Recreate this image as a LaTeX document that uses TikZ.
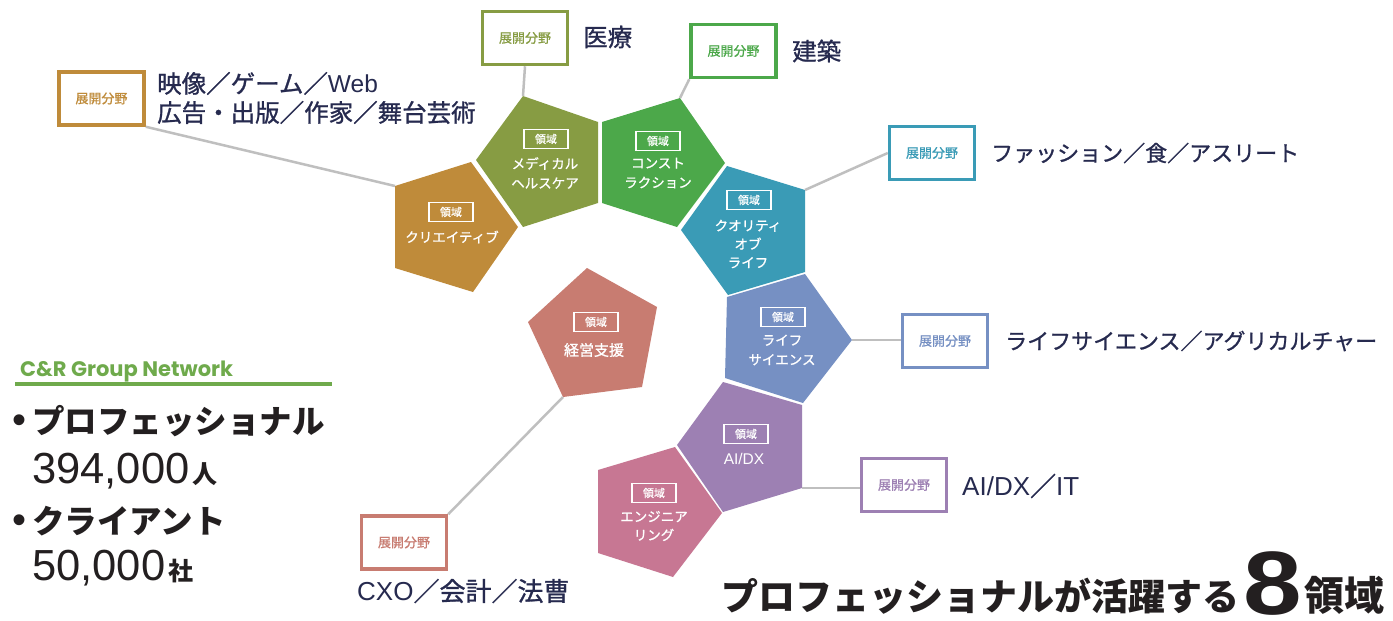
\documentclass[tikz,border=0pt]{standalone}
\usepackage{fontspec}
\usepackage{graphicx}
\setmainfont{Liberation Sans}
\newfontfamily\jp{Noto Sans CJK JP}
\newfontfamily\jpm{Noto Sans CJK JP}[FakeBold=1]
\newfontfamily\pop{Poppins}
\definecolor{navy}{HTML}{262A4F}
\definecolor{linkgray}{HTML}{BFBFBF}
\definecolor{cre}{HTML}{BF8B3A}
\definecolor{med}{HTML}{879C43}
\definecolor{con}{HTML}{4CA84A}
\definecolor{qol}{HTML}{3A9BB6}
\definecolor{lif}{HTML}{7690C3}
\definecolor{aid}{HTML}{9D80B3}
\definecolor{eng}{HTML}{C77793}
\definecolor{mgt}{HTML}{C87C71}
\definecolor{cgreen}{HTML}{6FAA4C}
\definecolor{ink}{HTML}{231F20}
\tikzset{
  fieldbox/.style={draw=#1, line width=3.5pt, fill=white, minimum width=85pt, minimum height=53pt, text=#1, inner sep=0pt, font=\jpm\fontsize{13}{13}\selectfont},
  areatag/.style={draw=white, line width=1.2pt, minimum width=44pt, minimum height=19pt, inner sep=0pt, text=white, font=\jpm\fontsize{11}{11}\selectfont},
  arealabel/.style={text=white, align=center, inner sep=0pt, font=\jpm\fontsize{13.5}{19.5}\selectfont},
  fieldtext/.style={text=navy, anchor=west, align=left, inner sep=0pt, font=\jpm\fontsize{24.5}{29}\selectfont},
  link/.style={draw=linkgray, line width=2.5pt},
}
\begin{document}
\begin{tikzpicture}[x=1pt,y=-1pt]
\useasboundingbox (0,0) rectangle (1393,621);
\fill[white] (0,0) rectangle (1393,621);

% ---------- pentagons ----------
\fill[cre] (395,186) -- (471,162) -- (518,227) -- (473,292) -- (395,268) -- cycle;
\fill[med] (476,160) -- (523,96) -- (598,122) -- (598,203) -- (523,227) -- cycle;
\fill[con] (602,122) -- (680,98) -- (725,163) -- (677,227) -- (602,203) -- cycle;
\fill[qol] (681,230) -- (727,166) -- (805,190) -- (805,272) -- (728,295) -- cycle;
\fill[lif] (727,297) -- (805,274) -- (852,340) -- (803,403) -- (725,378) -- cycle;
\fill[aid] (723,382) -- (802,405) -- (802,488) -- (723,512) -- (677,445) -- cycle;
\fill[eng] (598,470) -- (675,447) -- (722,513) -- (673,577) -- (598,553) -- cycle;
\fill[mgt] (587,268) -- (657,307) -- (642,387) -- (563,397) -- (528,322) -- cycle;

\coordinate (creV) at (395,186);
\coordinate (medV) at (523,96);
\coordinate (conV) at (680,98);
\coordinate (qolV) at (805,190);
\coordinate (lifV) at (852,340);
\coordinate (aidV) at (802,488);
\coordinate (mgtV) at (563,397);

% ---------- area labels ----------
\node[areatag] (creT) at (451,212) {領域};
\node[arealabel] (creL) at (452,237) {クリエイティブ};
\node[areatag] (medT) at (546,139) {領域};
\node[arealabel] (medL) at (545,173) {メディカル\\ヘルスケア};
\node[areatag] (conT) at (658,141) {領域};
\node[arealabel] (conL) at (658,173) {コンスト\\ラクション};
\node[areatag] (qolT) at (749,200) {領域};
\node[arealabel, font=\jpm\fontsize{13.5}{18.5}\selectfont] (qolL) at (748,244) {クオリティ\\オブ\\ライフ};
\node[areatag] (lifT) at (783,317) {領域};
\node[arealabel] (lifL) at (782,350) {ライフ\\サイエンス};
\node[areatag] (aidT) at (746,434) {領域};
\node[arealabel, font=\fontsize{15.5}{15.5}\selectfont] (aidL) at (744,459) {AI/DX};
\node[areatag] (engT) at (654,493) {領域};
\node[arealabel, font=\jpm\fontsize{13.5}{18.5}\selectfont] (engL) at (654,526) {エンジニア\\リング};
\node[areatag] (mgtT) at (596,322) {領域};
\node[arealabel, font=\jpm\fontsize{15}{15}\selectfont] (mgtL) at (594,350) {経営支援};

% ---------- field boxes ----------
\node[fieldbox=cre] (creB) at (101.5,98.5) {展開分野};
\node[fieldbox=med] (medB) at (525,38) {展開分野};
\node[fieldbox=con] (conB) at (733.5,51) {展開分野};
\node[fieldbox=qol] (qolB) at (932,153) {展開分野};
\node[fieldbox=lif] (lifB) at (945,341) {展開分野};
\node[fieldbox=aid] (aidB) at (904,485) {展開分野};
\node[fieldbox=mgt] (mgtB) at (404,542.5) {展開分野};

% ---------- connectors ----------
\draw[link] (creB.south east) -- (creV);
\draw[link] (medB.south) -- (medV);
\draw[link] (conB.south west) -- (conV);
\draw[link] (qolV) -- (qolB.west);
\draw[link] (lifV) -- (lifB.west |- lifV);
\draw[link] (aidV) -- (aidB.west |- aidV);
\draw[link] (mgtV) -- (mgtB.north east);

% ---------- field texts ----------
\node[fieldtext] (creF) at (157,98) {映像／ゲーム／{\rmfamily Web}\\広告・出版／作家／舞台芸術};
\node[fieldtext] (medF) at (583,37) {医療};
\node[fieldtext] (conF) at (792,51) {建築};
\node[fieldtext, font=\jpm\fontsize{22}{22}\selectfont] (qolF) at (991,153) {ファッション／食／アスリート};
\node[fieldtext, font=\jpm\fontsize{22}{22}\selectfont] (lifF) at (1005,341) {ライフサイエンス／アグリカルチャー};
\node[fieldtext, font=\jpm\fontsize{26}{26}\selectfont] (aidF) at (962,486) {{\rmfamily AI/DX}／{\rmfamily IT}};
\node[fieldtext, font=\jpm\fontsize{26}{26}\selectfont] (mgtF) at (357,591) {{\rmfamily CXO}／会計／法曹};

% ---------- left summary ----------
\node[anchor=base west, inner sep=0pt, text=cgreen, font=\pop\bfseries\fontsize{21}{21}\selectfont] (net) at (20,376) {C\&R Group Network};
\coordinate (ulA) at (15,383.5);
\coordinate (ulB) at (332,383.5);
\draw[cgreen, line width=4pt] (ulA) -- (ulB);
\node[anchor=base west, inner sep=0pt, text=ink] (pro) at (12,433) {{\fontsize{40}{40}\selectfont •}\hspace{6pt}{\jp\bfseries\fontsize{32.5}{32.5}\selectfont プロフェッショナル}};
\node[anchor=base west, inner sep=0pt, text=ink] (proN) at (32,483) {{\fontsize{43.5}{43.5}\selectfont 394,000}\hspace{3pt}{\jp\bfseries\fontsize{25}{25}\selectfont 人}};
\node[anchor=base west, inner sep=0pt, text=ink] (cli) at (12,533) {{\fontsize{40}{40}\selectfont •}\hspace{6pt}{\jp\bfseries\fontsize{32.5}{32.5}\selectfont クライアント}};
\node[anchor=base west, inner sep=0pt, text=ink] (cliN) at (32,580) {{\fontsize{43.5}{43.5}\selectfont 50,000}\hspace{3pt}{\jp\bfseries\fontsize{25}{25}\selectfont 社}};

% ---------- title ----------
\node[anchor=base west, inner sep=0pt, text=ink, font=\jp\bfseries\fontsize{37}{37}\selectfont] (title) at (721,610) {プロフェッショナルが活躍する};
\node[anchor=south west, inner sep=0pt, text=ink, font=\bfseries\fontsize{90}{90}\selectfont] (eight) at (1243,616) {\scalebox{1.17}[1]{8}};
\node[anchor=base west, inner sep=0pt, text=ink, font=\jp\bfseries\fontsize{40}{40}\selectfont] (ryoiki) at (1304,610) {領域};
\end{tikzpicture}
\end{document}
